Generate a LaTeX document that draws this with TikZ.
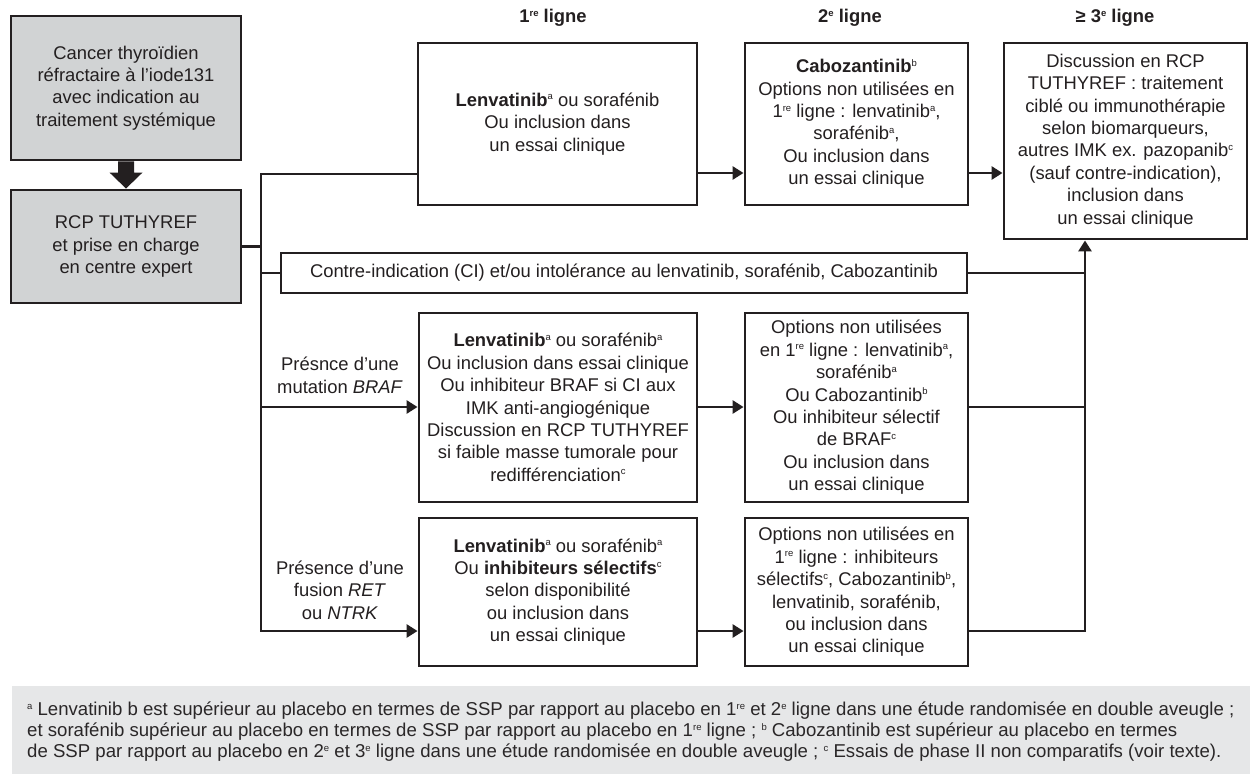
\documentclass[tikz,border=0pt]{standalone}
\usepackage{fontspec}
\setmainfont{Liberation Sans}
\usetikzlibrary{arrows.meta,calc}

\definecolor{ink}{HTML}{231F20}
\definecolor{boxgray}{HTML}{D1D3D4}
\definecolor{notegray}{HTML}{E6E7E8}
\definecolor{notetext}{HTML}{2A2728}

% small raised letters for the footnote calls
\newcommand{\spx}[1]{\raisebox{6.5pt}{\fontsize{9.5}{9.5}\selectfont #1}}

\tikzset{
  txt/.style={font={\fontsize{18.4}{22.4}\selectfont}, text=ink, align=center, inner sep=0pt},
  box/.style={txt, draw=ink, line width=2.9pt, fill=white},
  graybox/.style={box, fill=boxgray},
  conn/.style={draw=ink, line width=2.9pt, line join=miter},
  arr/.style={conn, -{Triangle[length=11pt,width=13pt]}},
  head/.style={txt, font={\fontsize{18.4}{22.4}\selectfont\bfseries}},
}

\begin{document}
\begin{tikzpicture}[x=1pt,y=-1pt]
\useasboundingbox (0,0) rectangle (1250,774);

% column headings
\node[head] (h1) at (553,18) {1\spx{re} ligne};
\node[head] (h2) at (850,18) {2\spx{e} ligne};
\node[head] (h3) at (1115,18) {≥ 3\spx{e} ligne};

% entry boxes
\node[graybox, minimum width=230pt, minimum height=144pt] (b1) at (126,88)
  {Cancer thyroïdien\\réfractaire à l’iode131\\avec indication au\\traitement systémique};
\node[graybox, minimum width=230pt, minimum height=113pt] (b2) at (126,246.5)
  {RCP TUTHYREF\\et prise en charge\\en centre expert};

% general pathway
\node[box, minimum width=279pt, minimum height=162pt] (l1) at (557.5,124)
  {\textbf{Lenvatinib}\spx{a} ou sorafénib\\Ou inclusion dans\\un essai clinique};
\node[box, minimum width=223pt, minimum height=162pt] (l2) at (856.5,124)
  {\textbf{Cabozantinib}\spx{b}\\Options non utilisées en\\1\spx{re} ligne : lenvatinib\spx{a},\\sorafénib\spx{a},\\Ou inclusion dans\\un essai clinique};
\node[box, minimum width=243pt, minimum height=196pt] (l3) at (1125.5,141)
  {Discussion en RCP\\TUTHYREF : traitement\\ciblé ou immunothérapie\\selon biomarqueurs,\\autres IMK ex. pazopanib\spx{c}\\(sauf contre-indication),\\inclusion dans\\un essai clinique};

% contra-indication
\node[box, minimum width=686pt, minimum height=40pt] (ci) at (624,273)
  {Contre-indication (CI) et/ou intolérance au lenvatinib, sorafénib, Cabozantinib};

% BRAF pathway
\node[txt] (lbraf) at (340,375.5) {Présnce d’une\\mutation \textit{BRAF}};
\node[box, minimum width=278pt, minimum height=189pt] (br1) at (558,407.5)
  {\textbf{Lenvatinib}\spx{a} ou sorafénib\spx{a}\\Ou inclusion dans essai clinique\\Ou inhibiteur BRAF si CI aux\\IMK anti-angiogénique\\Discussion en RCP TUTHYREF\\si faible masse tumorale pour\\redifférenciation\spx{c}};
\node[box, minimum width=223pt, minimum height=189pt] (br2) at (856.5,407.5)
  {Options non utilisées\\en 1\spx{re} ligne : lenvatinib\spx{a},\\sorafénib\spx{a}\\Ou Cabozantinib\spx{b}\\Ou inhibiteur sélectif\\de BRAF\spx{c}\\Ou inclusion dans\\un essai clinique};

% RET / NTRK pathway
\node[txt] (lret) at (340,590) {Présence d’une\\fusion \textit{RET}\\ou \textit{NTRK}};
\node[box, minimum width=278pt, minimum height=148pt] (rt1) at (558,592)
  {\textbf{Lenvatinib}\spx{a} ou sorafénib\spx{a}\\Ou \textbf{inhibiteurs sélectifs}\spx{c}\\selon disponibilité\\ou inclusion dans\\un essai clinique};
\node[box, minimum width=223pt, minimum height=148pt] (rt2) at (856.5,592)
  {Options non utilisées en\\1\spx{re} ligne : inhibiteurs\\sélectifs\spx{c}, Cabozantinib\spx{b},\\lenvatinib, sorafénib,\\ou inclusion dans\\un essai clinique};

% routing points
\coordinate (tTop) at (261,174);
\coordinate (tBot) at (261,631);
\coordinate (rowA) at (0,173);
\coordinate (rowB) at (0,407);
\coordinate (col) at (1085,631);

% broad arrow between the two entry boxes
\fill[ink] ($(b1.south)+(-8,0)$) -- ($(b1.south)+(8,0)$) -- ($(b2.north)+(8,-16)$)
  -- ($(b2.north)+(16.5,-16)$) -- (b2.north) -- ($(b2.north)+(-16.5,-16)$)
  -- ($(b2.north)+(-8,-16)$) -- cycle;

% distribution trunk
\draw[arr] (l1.west |- tTop) -- (tTop) -- (tBot) -- (rt1.west |- tBot);
\draw[conn] (b2.east) -- (b2.east -| tTop);
\draw[conn] (ci.west) -- (ci.west -| tTop);
\draw[arr] (tTop |- rowB) -- (br1.west |- rowB);

% between lines
\draw[arr] (l1.east |- rowA) -- (l2.west |- rowA);
\draw[arr] (l2.east |- rowA) -- (l3.west |- rowA);
\draw[arr] (br1.east |- rowB) -- (br2.west |- rowB);
\draw[arr] (rt1.east |- tBot) -- (rt2.west |- tBot);

% collector towards third line
\draw[arr] (rt2.east |- col) -- (col) -- (col |- l3.south);
\draw[conn] (br2.east |- rowB) -- (col |- rowB);
\draw[conn] (ci.east) -- (ci.east -| col);

% footnotes
\fill[notegray] (12,686) rectangle (1250,774);
\node[txt, text=notetext, align=left, anchor=west, font={\fontsize{18.6}{21}\selectfont}] (fn) at (27,732)
  {\spx{a} Lenvatinib b est supérieur au placebo en termes de SSP par rapport au placebo en 1\spx{re} et 2\spx{e} ligne dans une étude randomisée en double aveugle ;\\
   et sorafénib supérieur au placebo en termes de SSP par rapport au placebo en 1\spx{re} ligne ; \spx{b} Cabozantinib est supérieur au placebo en termes\\
   de SSP par rapport au placebo en 2\spx{e} et 3\spx{e} ligne dans une étude randomisée en double aveugle ; \spx{c} Essais de phase II non comparatifs (voir texte).};
\end{tikzpicture}
\end{document}
